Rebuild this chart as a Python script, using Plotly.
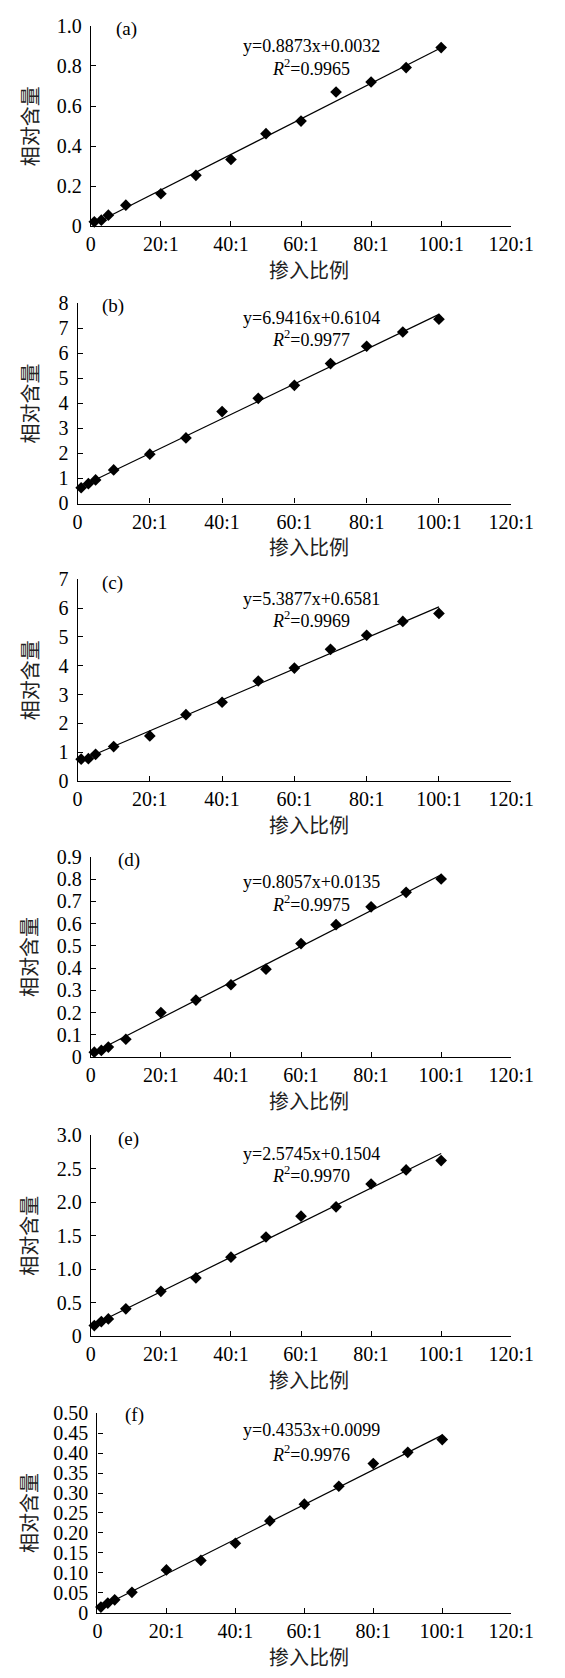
import plotly.graph_objects as go

# page body has an 8px default margin: keep the figure inside the window
OFF = 8
W, H = 565 - 2 * OFF, 1678 - 2 * OFF

ratios = [1, 3, 5, 10, 20, 30, 40, 50, 60, 70, 80, 90, 100]
x_tick_vals = [0, 20, 40, 60, 80, 100, 120]
x_tick_text = ["0", "20:1", "40:1", "60:1", "80:1", "100:1", "120:1"]

vals_a = [0.022, 0.030, 0.055, 0.105, 0.162, 0.254, 0.333, 0.462, 0.525, 0.670, 0.720, 0.792, 0.892]
vals_b = [0.63, 0.79, 0.94, 1.34, 1.97, 2.62, 3.67, 4.20, 4.72, 5.59, 6.28, 6.85, 7.36]
vals_c = [0.75, 0.77, 0.92, 1.19, 1.56, 2.30, 2.73, 3.47, 3.92, 4.57, 5.06, 5.54, 5.82]
vals_d = [0.022, 0.030, 0.045, 0.080, 0.200, 0.256, 0.325, 0.395, 0.510, 0.595, 0.675, 0.740, 0.800]
vals_e = [0.16, 0.22, 0.26, 0.41, 0.67, 0.87, 1.18, 1.48, 1.79, 1.93, 2.27, 2.48, 2.62]
vals_f = [0.014, 0.024, 0.032, 0.051, 0.107, 0.131, 0.174, 0.230, 0.272, 0.317, 0.374, 0.402, 0.434]

labels = ["(a)", "(b)", "(c)", "(d)", "(e)", "(f)"]
slopes = [0.8873, 6.9416, 5.3877, 0.8057, 2.5745, 0.4353]
intercepts = [0.0032, 0.6104, 0.6581, 0.0135, 0.1504, 0.0099]
eq_texts = ["y=0.8873x+0.0032", "y=6.9416x+0.6104", "y=5.3877x+0.6581",
            "y=0.8057x+0.0135", "y=2.5745x+0.1504", "y=0.4353x+0.0099"]
r2_texts = ["0.9965", "0.9977", "0.9969", "0.9975", "0.9970", "0.9976"]

y_ticks_a = [0, 0.2, 0.4, 0.6, 0.8, 1.0]
y_text_a = ["0", "0.2", "0.4", "0.6", "0.8", "1.0"]
y_ticks_b = [0, 1, 2, 3, 4, 5, 6, 7, 8]
y_text_b = ["0", "1", "2", "3", "4", "5", "6", "7", "8"]
y_ticks_c = [0, 1, 2, 3, 4, 5, 6, 7]
y_text_c = ["0", "1", "2", "3", "4", "5", "6", "7"]
y_ticks_d = [0, 0.1, 0.2, 0.3, 0.4, 0.5, 0.6, 0.7, 0.8, 0.9]
y_text_d = ["0", "0.1", "0.2", "0.3", "0.4", "0.5", "0.6", "0.7", "0.8", "0.9"]
y_ticks_e = [0, 0.5, 1.0, 1.5, 2.0, 2.5, 3.0]
y_text_e = ["0", "0.5", "1.0", "1.5", "2.0", "2.5", "3.0"]
y_ticks_f = [0, 0.05, 0.10, 0.15, 0.20, 0.25, 0.30, 0.35, 0.40, 0.45, 0.50]
y_text_f = ["0", "0.05", "0.10", "0.15", "0.20", "0.25", "0.30", "0.35", "0.40", "0.45", "0.50"]

x_title = "掺入比例"
y_title = "相对含量"

series = [vals_a, vals_b, vals_c, vals_d, vals_e, vals_f]
yticks = [(y_ticks_a, y_text_a), (y_ticks_b, y_text_b), (y_ticks_c, y_text_c),
          (y_ticks_d, y_text_d), (y_ticks_e, y_text_e), (y_ticks_f, y_text_f)]

# layout geometry (window pixels)
panels = [  # x_left, x_right, y_top, y_bottom
    (90, 533, 15, 218),
    (76, 533, 296, 499),
    (76, 533, 576, 780),
    (90, 533, 857, 1060),
    (90, 533, 1139, 1343),
    (97, 533, 1421, 1623),
]
label_pos = [(128, 18), (113, 299), (113, 580), (130, 860), (130, 1143), (136, 1423)]
eq_pos = [(35, 57), (311, 332), (596, 617), (883, 904), (1158, 1179), (1438, 1462)]

SERIF = "Liberation Serif, Times New Roman, serif"
CJK = "Noto Sans CJK SC"

def px(x):
    return (x - OFF) / W

def py(y):
    return 1 - (y - OFF) / H

fig = go.Figure()
annotations = []
layout = dict(width=W, height=H, margin=dict(l=0, r=0, t=0, b=0), autosize=False,
              paper_bgcolor="white", plot_bgcolor="white", showlegend=False)

for i in range(6):
    n = "" if i == 0 else str(i + 1)
    xa, ya = "x" + n, "y" + n
    xl, xr, yt, yb = panels[i]
    tv, tt = yticks[i]
    fig.add_trace(go.Scatter(x=ratios, y=series[i], mode="markers", xaxis=xa, yaxis=ya,
                             marker=dict(symbol="diamond", size=9, color="black"),
                             cliponaxis=False))
    lx = [ratios[0], ratios[-1]]
    ly = [slopes[i] * v / 100 + intercepts[i] for v in lx]
    fig.add_trace(go.Scatter(x=lx, y=ly, mode="lines", xaxis=xa, yaxis=ya,
                             line=dict(color="black", width=1.2), cliponaxis=False))
    layout["xaxis" + n] = dict(domain=[px(xl), px(xr)], anchor=ya, range=[0, 120],
                               tickvals=x_tick_vals, ticktext=x_tick_text,
                               ticks="inside", ticklen=5, tickwidth=1.2, tickcolor="black",
                               showline=True, linecolor="black", linewidth=1.2,
                               showgrid=False, zeroline=False,
                               tickfont=dict(family=SERIF, size=20, color="black"))
    layout["yaxis" + n] = dict(domain=[py(yb), py(yt)], anchor=xa, range=[0, tv[-1]],
                               tickvals=tv, ticktext=tt,
                               ticks="inside", ticklen=5, tickwidth=1.2, tickcolor="black",
                               showline=True, linecolor="black", linewidth=1.2,
                               showgrid=False, zeroline=False, ticklabelstandoff=4,
                               tickfont=dict(family=SERIF, size=20, color="black"))
    annotations.append(dict(text=x_title, xref="paper", yref="paper",
                            x=px(320), y=py(yb + 44), showarrow=False,
                            xanchor="center", yanchor="middle",
                            font=dict(family=CJK, size=20, color="#222")))
    annotations.append(dict(text=y_title, xref="paper", yref="paper",
                            x=px(25), y=py((yt + yb) / 2), showarrow=False, textangle=-90,
                            xanchor="center", yanchor="middle",
                            font=dict(family=CJK, size=20, color="#222")))
    lx_, ly_ = label_pos[i]
    annotations.append(dict(text=labels[i], xref="paper", yref="paper",
                            x=px(lx_), y=py(ly_), showarrow=False,
                            xanchor="center", yanchor="middle",
                            font=dict(family=SERIF, size=19, color="black")))
    e1, e2 = eq_pos[i]
    annotations.append(dict(text=eq_texts[i], xref="paper", yref="paper",
                            x=px(323), y=py(e1), showarrow=False,
                            xanchor="center", yanchor="middle",
                            font=dict(family=SERIF, size=18, color="black")))
    annotations.append(dict(text="<i>R</i><sup>2</sup>=" + r2_texts[i], xref="paper", yref="paper",
                            x=px(322), y=py(e2), showarrow=False,
                            xanchor="center", yanchor="middle",
                            font=dict(family=SERIF, size=18, color="black")))

layout["annotations"] = annotations
fig.update_layout(**layout)
fig.write_html("out.html")
